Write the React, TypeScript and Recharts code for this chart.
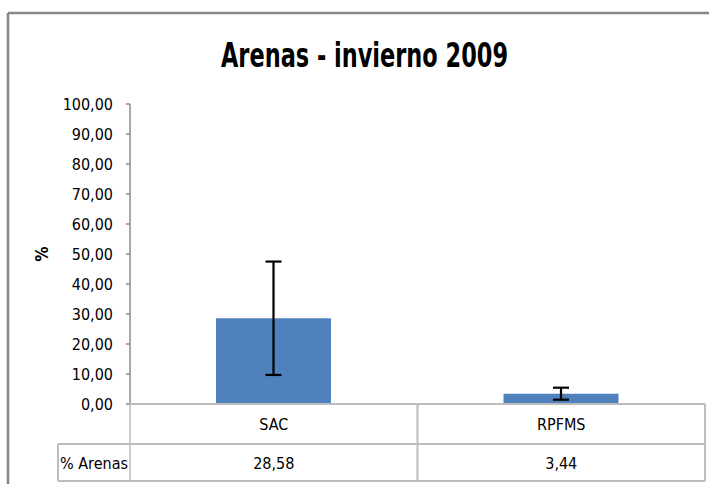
import React from "react";
import { Bar, BarChart, ErrorBar, XAxis, YAxis } from "recharts";

const categories = ["SAC", "RPFMS"];
const arenas = [28.58, 3.44];
const arenasErr = [18.9, 2.0];
const yTicks = [0, 10, 20, 30, 40, 50, 60, 70, 80, 90, 100];
const seriesName = "% Arenas";

const data = categories.map((name, i) => ({
  name,
  value: arenas[i],
  err: arenasErr[i],
}));

const W = 709;
const H = 484;
const M = { top: 104, right: 4, bottom: 0, left: 60 };
const Y_W = 70;
const X_H = 80;
const PLOT_L = M.left + Y_W;
const PLOT_B = H - M.bottom - X_H;
const BAND = (W - M.right - PLOT_L) / categories.length;
const ROW1 = PLOT_B + 40;
const ROW2 = PLOT_B + 77;
const HEAD_L = 58;

const FONT = "'Liberation Sans Narrow', 'DejaVu Sans Condensed', 'Open Sans', sans-serif";
const LINE = "#bcbcbc";

const fmt = (v: number) => v.toFixed(2).replace(".", ",");

function TableTick(props: any) {
  const { x, payload, index } = props;
  const half = BAND / 2;
  const l = x - half;
  const r = x + half;
  return (
    <g>
      <line x1={l} x2={r} y1={PLOT_B} y2={PLOT_B} stroke={LINE} strokeWidth={2} />
      <line x1={l} x2={r} y1={ROW1} y2={ROW1} stroke={LINE} strokeWidth={2} />
      <line x1={l} x2={r} y1={ROW2} y2={ROW2} stroke={LINE} strokeWidth={2} />
      <line x1={r} x2={r} y1={PLOT_B} y2={ROW2} stroke={LINE} strokeWidth={2} />
      {index === 0 && (
        <g>
          <line x1={l} x2={l} y1={PLOT_B} y2={ROW2} stroke={LINE} strokeWidth={1.5} />
          <line x1={HEAD_L} x2={l} y1={ROW1} y2={ROW1} stroke={LINE} strokeWidth={2} />
          <line x1={HEAD_L} x2={l} y1={ROW2} y2={ROW2} stroke={LINE} strokeWidth={2} />
          <line x1={HEAD_L} x2={HEAD_L} y1={ROW1} y2={ROW2} stroke={LINE} strokeWidth={2} />
          <text x={(HEAD_L + l) / 2} y={(ROW1 + ROW2) / 2 + 6} textAnchor="middle" fontSize={16} fill="#000" fontFamily={FONT}>
            {seriesName}
          </text>
        </g>
      )}
      <text x={x} y={(PLOT_B + ROW1) / 2 + 6} textAnchor="middle" fontSize={16} fill="#000" fontFamily={FONT}>
        {payload.value}
      </text>
      <text x={x} y={(ROW1 + ROW2) / 2 + 6} textAnchor="middle" fontSize={16} fill="#000" fontFamily={FONT}>
        {fmt(arenas[index])}
      </text>
    </g>
  );
}

export default function App() {
  return (
    <div style={{ position: "relative", width: W, height: H, background: "#fff" }}>
      <style>{"body{margin:0}"}</style>
      <BarChart width={W} height={H} data={data} margin={M}>
        <YAxis
          width={Y_W}
          domain={[0, 100]}
          ticks={yTicks}
          interval={0}
          tickFormatter={fmt}
          tickSize={4}
          tickMargin={13}
          axisLine={{ stroke: "#8c8c8c", strokeWidth: 1.5 }}
          tickLine={{ stroke: "#8c8c8c", strokeWidth: 1.5 }}
          tick={{ fill: "#000", fontSize: 16, fontFamily: FONT }}
        />
        <XAxis
          dataKey="name"
          height={X_H}
          axisLine={false}
          tickLine={false}
          interval={0}
          tick={<TableTick />}
        />
        <Bar dataKey="value" fill="#4f81bd" barSize={115} isAnimationActive={false}>
          <ErrorBar dataKey="err" width={8} strokeWidth={2.2} stroke="#000" direction="y" isAnimationActive={false} />
        </Bar>
      </BarChart>
      <svg width={W} height={H} style={{ position: "absolute", left: 0, top: 0, pointerEvents: "none" }}>
        <line x1={8} x2={W} y1={13} y2={13} stroke="#868686" strokeWidth={2.5} />
        <line x1={8} x2={8} y1={13} y2={H} stroke="#868686" strokeWidth={2.5} />
        <text
          x={221}
          y={67}
          textLength={287}
          lengthAdjust="spacingAndGlyphs"
          fontSize={33}
          fontWeight="bold"
          fill="#000"
          fontFamily={FONT}
        >
          Arenas - invierno 2009
        </text>
        <text
          x={42}
          y={254}
          transform="rotate(-90 42 254)"
          textAnchor="middle"
          dominantBaseline="central"
          fontSize={17}
          fontWeight="bold"
          fill="#000"
          fontFamily={FONT}
        >
          %
        </text>
      </svg>
    </div>
  );
}
